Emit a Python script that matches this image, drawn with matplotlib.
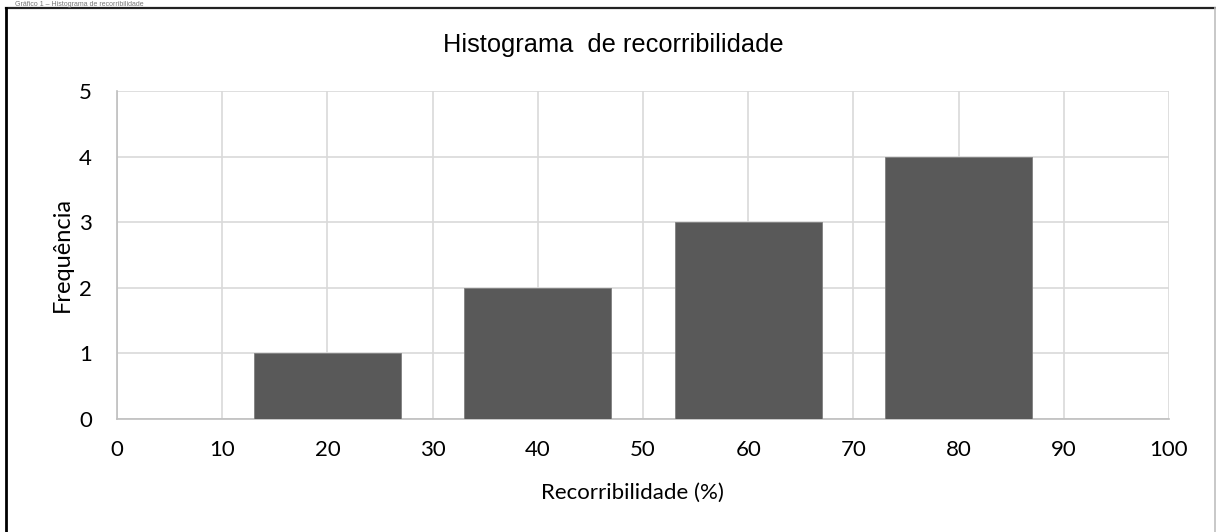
import matplotlib.pyplot as plt
from matplotlib.lines import Line2D

# dados do histograma
classes = [20, 40, 60, 80]
frequencia = [1, 2, 3, 4]
largura = 14
x_ticks = [0, 10, 20, 30, 40, 50, 60, 70, 80, 90, 100]
y_ticks = [0, 1, 2, 3, 4, 5]

W, H = 1216, 532
fig = plt.figure(figsize=(W / 100, H / 100), dpi=100)
ax = fig.add_axes([117 / W, 1 - 419 / H, (1169 - 117) / W, (419 - 91) / H])

ax.bar(classes, frequencia, width=largura, color='#595959', edgecolor='#7f7f7f', linewidth=0.6, zorder=3)

ax.set_xlim(0, 100)
ax.set_ylim(0, 5)
ax.set_xticks(x_ticks)
ax.set_yticks(y_ticks)
ax.grid(True, color='#d9d9d9', linewidth=1.2, zorder=0)
ax.set_axisbelow(True)
for s in ['top', 'right']:
    ax.spines[s].set_visible(False)
ax.spines['left'].set_color('#bfbfbf')
ax.spines['bottom'].set_color('#bfbfbf')
ax.spines['left'].set_linewidth(1.2)
ax.spines['bottom'].set_linewidth(1.2)
ax.tick_params(length=0, labelsize=16, colors='#000000')
ax.tick_params(axis='x', pad=15)
ax.tick_params(axis='y', pad=18)
for lab in ax.get_xticklabels() + ax.get_yticklabels():
    lab.set_family('Lato')

ax.set_xlabel('Recorribilidade (%)', fontsize=16, family='Lato')
ax.xaxis.set_label_coords((632 - 117) / 1052, -(493 - 419) / 328, transform=ax.transAxes)
ax.xaxis.label.set_va('center')
ax.set_ylabel('Frequência', fontsize=17, family='Lato')
ax.yaxis.set_label_coords(-(117 - 62) / 1052, 0.5, transform=ax.transAxes)
ax.yaxis.label.set_va('center')

fig.text(613 / W, 1 - 45 / H, 'Histograma  de recorribilidade', ha='center', va='center',
         fontsize=18.3, family='Liberation Sans')

# legenda do gráfico, quase fora da imagem no original
fig.text(15 / W, 1 - 0.5 / H, 'Gráfico 1 – Histograma de recorribilidade', ha='left', va='top',
         fontsize=5, family='Liberation Sans', color='#777777')

# moldura do gráfico
fig.add_artist(Line2D([6 / W, 1], [1 - 8 / H, 1 - 8 / H], color='#222222', linewidth=1.6))
fig.add_artist(Line2D([6 / W, 6 / W], [0, 1 - 8 / H], color='#000000', linewidth=2.0))
fig.add_artist(Line2D([1214.5 / W, 1214.5 / W], [0, 1 - 8 / H], color='#bfbfbf', linewidth=1.2))

fig.savefig('out.png', dpi=100)
